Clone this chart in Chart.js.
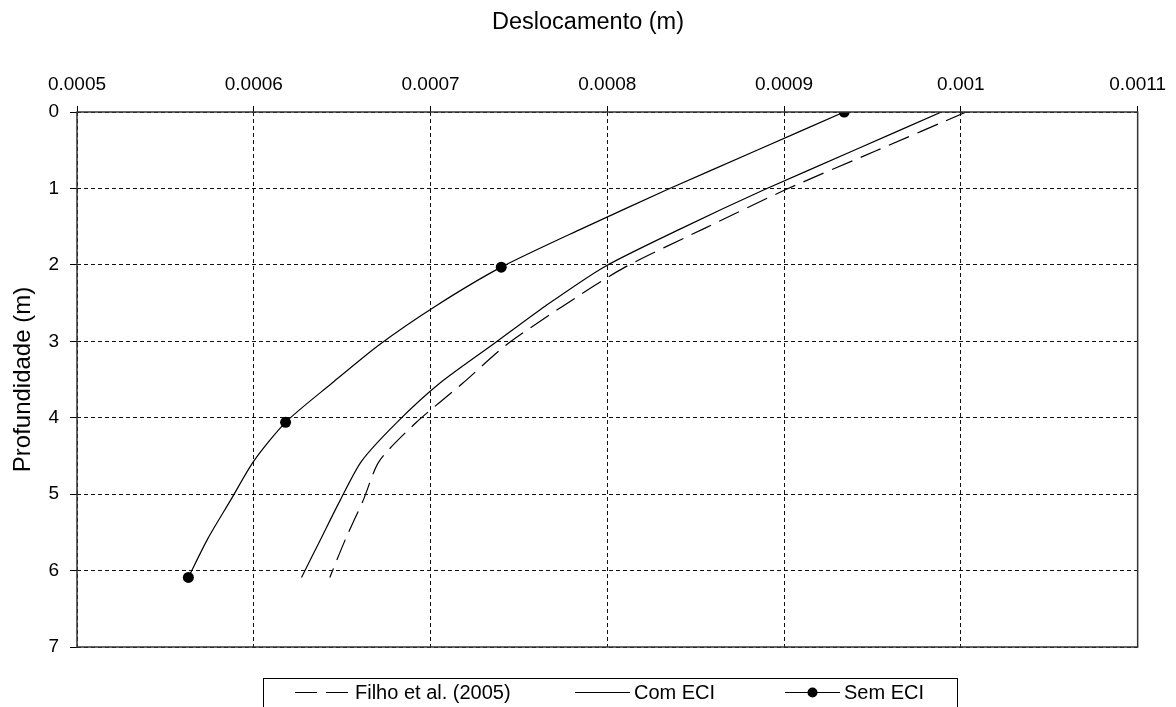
<!DOCTYPE html>
<html lang="pt">
<head>
<meta charset="UTF-8">
<title>Deslocamento x Profundidade</title>
<script src="https://cdn.jsdelivr.net/npm/chart.js"></script>
<style>
  html, body { margin: 0; padding: 0; background: #fff; }
  .wrap { width: 1176px; height: 707px; }
</style>
</head>
<body>
<div class="wrap"><canvas id="chart" width="1176" height="707"></canvas></div>
<script>
// profundidade (m) and deslocamento (m)
const depths = [0, 0.5075, 1.015, 1.5225, 2.03, 2.5375, 3.045, 3.5525, 4.06, 4.5675, 5.075, 5.5825, 6.09];
const filho  = [0.001003, 0.000952, 0.000901, 0.000855, 0.000810, 0.000775, 0.000743, 0.000718, 0.000692, 0.000671, 0.000662, 0.000652, 0.000643];
const comEci = [0.000989, 0.000939, 0.000889, 0.000842, 0.000798, 0.000765, 0.000735, 0.000705, 0.000681, 0.000661, 0.000649, 0.000638, 0.000627];
const semEci = [0.000934, 0.000884, 0.000834, 0.000786, 0.000740, 0.000703, 0.000671, 0.000644, 0.000618, 0.000600, 0.000587, 0.000574, 0.000563];
const seriesNames = ['Filho et al. (2005)', 'Com ECI', 'Sem ECI'];
const xTickLabels = ['0.0005', '0.0006', '0.0007', '0.0008', '0.0009', '0.001', '0.0011'];
const yTickLabels = ['0', '1', '2', '3', '4', '5', '6', '7'];

const FONT = "'Liberation Sans', Arial, sans-serif";

function toPoints(xs) {
    return xs.map((v, i) => ({ x: v, y: depths[i] }));
}

// outer frame of the plot + x title (centred on the page, like the original)
const framePlugin = {
    id: 'frame',
    afterDraw(chart) {
        const a = chart.chartArea;
        const ctx = chart.ctx;
        ctx.save();
        ctx.strokeStyle = '#333';
        ctx.lineWidth = 1.5;
        ctx.strokeRect(a.left, a.top, a.right - a.left, a.bottom - a.top);

        ctx.fillStyle = '#000';
        ctx.font = '23.5px ' + FONT;
        ctx.textAlign = 'center';
        ctx.textBaseline = 'middle';
        ctx.fillText('Deslocamento (m)', chart.width / 2, 23);
        ctx.restore();
    }
};

// boxed legend at the bottom
const legendPlugin = {
    id: 'boxLegend',
    afterDraw(chart) {
        const ctx = chart.ctx;
        const ds = chart.data.datasets;
        const y = 692;
        ctx.save();
        ctx.strokeStyle = '#000';
        ctx.lineWidth = 1;
        ctx.strokeRect(263.5, 678.5, 694, 40);

        ctx.font = '20px ' + FONT;
        ctx.fillStyle = '#000';
        ctx.textAlign = 'left';
        ctx.textBaseline = 'middle';

        const items = [
            { x1: 295, x2: 350, tx: 355 },
            { x1: 575, x2: 630, tx: 634 },
            { x1: 785, x2: 840, tx: 844 }
        ];
        items.forEach((it, i) => {
            ctx.beginPath();
            ctx.setLineDash(ds[i].borderDash || []);
            ctx.lineWidth = 1.2;
            ctx.strokeStyle = '#000';
            ctx.moveTo(it.x1, y + 0.5);
            ctx.lineTo(it.x2, y + 0.5);
            ctx.stroke();
            ctx.setLineDash([]);
            if (i === 2) {
                ctx.beginPath();
                ctx.arc((it.x1 + it.x2) / 2, y + 0.5, 5, 0, Math.PI * 2);
                ctx.fill();
            }
            ctx.fillText(ds[i].label, it.tx, y + 1);
        });
        ctx.restore();
    }
};

const ctx = document.getElementById('chart').getContext('2d');
new Chart(ctx, {
    type: 'scatter',
    data: {
        datasets: [
            {
                label: seriesNames[0],
                data: toPoints(filho),
                showLine: true,
                borderColor: '#000',
                borderWidth: 1.2,
                borderDash: [22, 9],
                pointRadius: 0,
                tension: 0.25
            },
            {
                label: seriesNames[1],
                data: toPoints(comEci),
                showLine: true,
                borderColor: '#000',
                borderWidth: 1.2,
                pointRadius: 0,
                tension: 0.25
            },
            {
                label: seriesNames[2],
                data: toPoints(semEci),
                showLine: true,
                borderColor: '#000',
                borderWidth: 1.2,
                backgroundColor: '#000',
                pointBackgroundColor: '#000',
                pointBorderWidth: 0,
                pointRadius: c => (c.dataIndex % 4 === 0 ? 5.5 : 0),
                tension: 0.25
            }
        ]
    },
    options: {
        responsive: false,
        animation: false,
        layout: { padding: { left: 0, right: 33, top: 0, bottom: 60 } },
        plugins: {
            legend: { display: false },
            tooltip: { enabled: false }
        },
        scales: {
            x: {
                type: 'linear',
                position: 'top',
                min: 0.0005,
                max: 0.0011,
                afterFit: s => { s.height = 112; },
                ticks: {
                    stepSize: 0.0001,
                    autoSkip: false,
                    maxRotation: 0,
                    padding: 10,
                    color: '#000',
                    font: { size: 19, family: FONT },
                    callback: (v, i) => xTickLabels[i]
                },
                grid: {
                    color: '#111',
                    lineWidth: 1,
                    tickLength: 6,
                    tickColor: '#000',
                    tickBorderDash: []
                },
                border: { display: false, dash: [4, 3] }
            },
            y: {
                type: 'linear',
                reverse: true,
                min: 0,
                max: 7,
                afterFit: s => { s.width = 77; },
                ticks: {
                    stepSize: 1,
                    padding: 11,
                    color: '#000',
                    font: { size: 19, family: FONT },
                    callback: v => yTickLabels[Math.round(v)]
                },
                grid: {
                    color: '#111',
                    lineWidth: 1,
                    tickLength: 7,
                    tickColor: '#000',
                    tickBorderDash: []
                },
                border: { display: false, dash: [4, 3] },
                title: {
                    display: true,
                    text: 'Profundidade (m)',
                    color: '#000',
                    font: { size: 24, family: FONT },
                    padding: { top: 9, bottom: 0 }
                }
            }
        }
    },
    plugins: [framePlugin, legendPlugin]
});
</script>
</body>
</html>
